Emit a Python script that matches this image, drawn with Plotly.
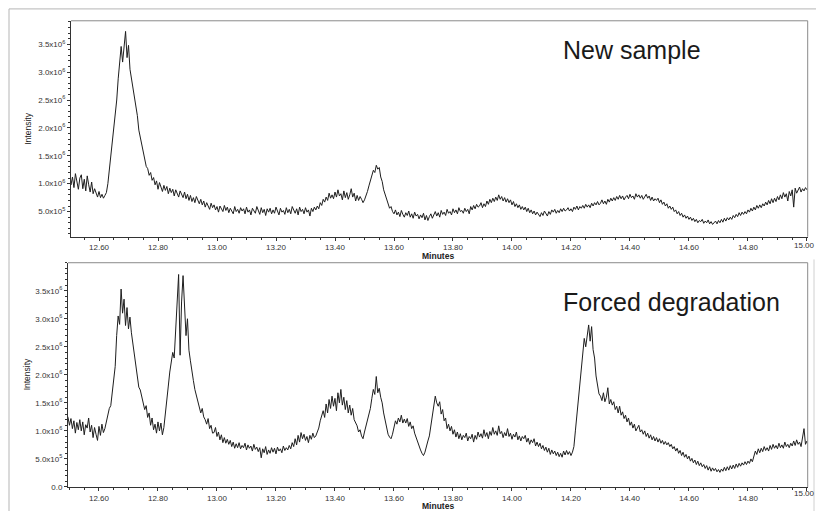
import plotly.graph_objects as go

# Sampling grid of the chromatograms (minutes)
START_MIN = 12.49
STEP_MIN = 0.005

# Intensity readings, in units of 1e5 counts, one row per 0.05 min
new_sample = [
    12.8, 13.1, 11.0, 9.8, 11.2, 9.3, 11.8, 10.0, 9.0, 11.0,
    11.6, 9.1, 10.8, 8.7, 11.4, 9.8, 8.5, 10.3, 8.2, 9.1,
    8.4, 7.6, 8.6, 7.5, 8.1, 7.4, 7.9, 8.4, 10.0, 12.5,
    14.8, 17.2, 19.8, 22.6, 25.0, 28.8, 32.5, 34.6, 31.8, 35.2,
    37.3, 32.6, 34.8, 30.5, 28.9, 27.0, 25.8, 23.6, 22.2, 19.6,
    18.4, 16.6, 15.4, 14.4, 13.1, 12.7, 11.5, 12.0, 10.6, 11.1,
    9.8, 10.5, 9.0, 10.2, 9.4, 8.6, 9.7, 8.8, 9.5, 8.2,
    9.2, 8.4, 9.0, 7.8, 8.9, 8.1, 7.6, 8.7, 8.0, 7.5,
    8.5, 7.3, 8.1, 7.0, 7.9, 6.8, 7.5, 6.6, 7.7, 6.9,
    6.4, 7.2, 6.2, 6.9, 5.8, 6.6, 6.0, 5.4, 6.5, 5.7,
    6.2, 5.3, 5.9, 4.9, 6.0, 5.5, 5.0, 6.1, 5.2, 5.8,
    4.8, 5.6, 5.2, 4.6, 5.9, 5.0, 5.4, 4.7, 5.7, 5.1,
    5.5, 4.6, 5.8, 4.9, 5.3, 4.4, 5.6, 5.0, 4.7, 5.9,
    5.2, 4.5, 5.7, 4.8, 5.4, 4.3, 5.5, 4.9, 5.6, 4.6,
    5.3, 4.7, 5.8, 5.0, 4.4, 5.6, 4.9, 5.2, 4.5, 5.7,
    4.8, 5.4, 4.6, 5.9, 5.1, 4.7, 5.5, 4.4, 5.8, 5.0,
    5.4, 4.6, 5.7, 4.9, 5.3, 4.2, 5.6, 5.0, 5.8, 5.3,
    6.0, 5.5, 6.6, 6.1, 7.2, 6.7, 7.6, 7.0, 8.3, 7.4,
    8.0, 7.3, 8.5, 7.6, 8.9, 7.8, 8.2, 7.1, 8.7, 7.5,
    8.4, 7.2, 8.0, 9.1, 7.6, 8.3, 6.9, 7.9, 7.0, 7.7,
    7.2, 6.6, 7.1, 7.8, 8.6, 9.6, 10.6, 11.5, 12.4, 12.0,
    13.3, 12.6, 12.9, 11.2, 10.4, 8.9, 8.0, 7.0, 6.4, 5.6,
    5.9, 5.0, 4.6, 5.3, 4.4, 4.9, 4.1, 5.2, 4.5, 4.0,
    4.8, 4.3, 5.1, 4.0, 4.6, 3.8, 4.9, 4.2, 4.5, 3.7,
    4.4, 3.9, 4.7, 3.5, 4.3, 3.4, 4.1, 4.6, 3.8, 4.4,
    5.0, 4.2, 4.8, 4.0, 5.2, 4.5, 4.9, 4.3, 5.4, 4.7,
    5.0, 4.4, 5.5, 4.8, 5.3, 4.6, 5.7, 5.0, 5.2, 4.7,
    5.6, 5.0, 5.4, 4.6, 5.9, 5.3, 6.1, 5.5, 6.3, 5.8,
    6.0, 6.6, 5.7, 6.4, 5.9, 6.9, 6.3, 7.2, 6.6, 7.4,
    6.8, 7.6, 7.0, 8.0, 7.2, 7.7, 6.9, 7.5, 6.7, 7.3,
    6.6, 7.1, 6.2, 6.8, 5.9, 6.4, 5.7, 6.2, 5.4, 5.9,
    5.3, 5.8, 5.0, 5.6, 4.8, 5.3, 4.6, 5.1, 4.4, 4.9,
    4.5, 4.1, 4.8, 4.3, 5.1, 4.6, 4.2, 5.0, 4.5, 5.3,
    4.9, 5.4, 4.7, 5.2, 4.8, 5.5, 5.0, 5.6, 5.1, 5.3,
    5.7, 5.1, 5.5, 5.0, 5.8, 5.4, 6.0, 5.3, 5.9, 5.6,
    6.1, 5.6, 6.3, 5.8, 6.2, 5.7, 6.5, 6.0, 6.6, 6.2,
    6.8, 6.2, 6.5, 7.1, 6.4, 6.9, 6.3, 7.2, 6.7, 7.4,
    6.9, 7.5, 7.0, 7.7, 7.2, 7.9, 7.3, 7.8, 7.1, 7.6,
    7.9, 7.3, 8.1, 7.5, 7.8, 7.2, 8.2, 7.6, 8.0, 7.4,
    7.9, 7.2, 7.7, 8.1, 7.4, 7.8, 7.0, 7.6, 6.9, 7.3,
    7.0, 7.4, 6.6, 7.1, 6.3, 6.7, 6.0, 6.4, 5.6, 6.0,
    5.4, 5.8, 5.0, 5.3, 4.6, 5.0, 4.3, 4.7, 4.0, 4.4,
    3.8, 4.2, 3.6, 4.0, 3.4, 3.8, 3.2, 3.6, 3.0, 3.4,
    3.2, 3.6, 2.9, 3.3, 3.0, 3.5, 2.8, 3.2, 2.7, 3.1,
    3.3, 2.8, 3.4, 3.0, 3.6, 3.1, 3.8, 3.3, 3.9, 3.5,
    4.0, 3.6, 4.3, 3.9, 4.5, 4.1, 4.8, 4.3, 4.9, 4.5,
    5.0, 4.6, 5.3, 4.9, 5.6, 5.1, 5.8, 5.3, 6.1, 5.6,
    6.2, 5.7, 6.4, 6.0, 6.7, 6.2, 7.0, 6.4, 7.3, 6.6,
    7.4, 6.8, 7.7, 7.1, 8.0, 7.3, 8.4, 7.6, 8.2, 6.9,
    8.6, 7.8, 8.9, 5.8, 9.2, 8.3, 8.8, 9.4, 8.5, 9.1,
    8.7, 9.3, 8.9,
]

forced_degradation = [
    13.0, 12.4, 11.0, 12.2, 10.4, 11.8, 9.6, 11.5, 10.2, 12.0,
    10.0, 11.6, 9.3, 11.1, 10.5, 12.3, 9.8, 11.0, 8.8, 10.6,
    9.4, 8.3, 10.8, 9.2, 11.2, 9.7, 10.4, 11.6, 12.4, 14.0,
    14.5, 16.5, 19.0, 21.5, 27.0, 30.5, 29.0, 35.3, 31.0, 33.5,
    28.8, 32.0, 28.2, 30.3, 27.5, 25.4, 23.5, 21.0, 19.8, 17.8,
    17.3, 16.0, 15.2, 13.8, 14.5, 12.4, 13.2, 11.0, 12.3, 10.2,
    11.2, 9.6, 11.6, 10.0, 11.4, 9.3, 10.6, 13.5, 15.8, 18.0,
    20.5, 22.0, 24.0, 23.0, 28.0, 33.0, 37.9, 23.5, 33.0, 37.7,
    31.0, 27.0, 30.0, 24.4, 22.5, 20.3, 19.0, 17.4, 16.2, 15.5,
    14.2, 13.2, 14.0, 12.5, 12.0, 11.2, 12.2, 10.4, 11.0, 9.6,
    9.7, 10.6, 9.0, 9.8, 8.4, 9.3, 7.9, 8.8, 7.8, 8.5,
    7.6, 8.3, 7.2, 8.0, 6.9, 7.7, 7.0, 7.9, 6.8, 7.4,
    7.0, 7.8, 6.6, 7.5, 6.9, 7.3, 6.4, 7.6, 6.7, 7.1,
    6.3, 7.0, 5.2, 6.8, 6.1, 7.2, 5.8, 6.6, 6.0, 7.0,
    6.2, 6.9, 5.9, 7.1, 6.4, 6.8, 6.1, 7.3, 6.5, 7.0,
    6.6, 7.4, 6.8, 7.9, 7.2, 8.6, 7.5, 9.2, 8.0, 9.7,
    8.6, 9.4, 8.3, 9.0, 7.9, 9.2, 8.5, 9.6, 8.8, 9.1,
    9.8, 10.5, 11.8, 12.7, 13.6, 12.4, 14.8, 13.2, 15.6, 14.0,
    16.2, 14.4, 15.8, 13.6, 16.8, 15.0, 17.4, 14.6, 16.0, 13.8,
    15.4, 13.2, 14.6, 12.8, 14.0, 12.0, 11.4, 10.9, 9.8, 10.2,
    9.1, 8.6, 9.8, 10.9, 12.0, 13.2, 14.0, 15.8, 17.4, 16.5,
    19.7, 16.8, 17.6, 16.0, 15.0, 13.2, 11.8, 10.4, 9.4, 8.9,
    8.6, 9.4, 10.6, 11.8, 11.2, 12.3, 11.6, 12.8, 11.4, 12.1,
    11.4, 12.2, 10.8, 11.6, 10.4, 10.9, 9.6, 8.8, 7.8, 7.4,
    6.6, 6.0, 5.6, 6.2, 7.0, 8.2, 9.1, 11.0, 12.8, 14.0,
    16.2, 15.0, 14.4, 15.2, 13.0, 13.8, 11.8, 12.3, 10.4, 11.2,
    10.0, 10.8, 9.4, 10.2, 8.9, 9.8, 8.6, 9.5, 8.4, 9.2,
    8.8, 9.6, 8.2, 9.0, 8.6, 9.4, 8.0, 9.2, 8.5, 9.8,
    8.9, 9.5, 8.7, 10.2, 9.0, 9.7, 8.6, 9.9, 9.2, 10.6,
    9.4, 10.0, 9.2, 10.9, 9.5, 9.9, 8.8, 9.7, 9.1, 10.4,
    9.0, 9.6, 8.5, 9.4, 8.9, 9.8, 8.4, 9.1, 8.2, 9.0,
    8.6, 9.2, 8.0, 8.7, 7.6, 8.4, 7.9, 8.6, 7.3, 8.0,
    7.2, 7.8, 6.8, 7.4, 6.5, 7.1, 6.2, 6.9, 5.8, 6.6,
    5.9, 6.4, 5.6, 6.2, 5.4, 6.0, 5.3, 6.4, 5.7, 6.5,
    5.8, 6.3, 5.6, 6.2, 7.2, 10.0, 12.7, 15.5, 18.5, 21.5,
    24.0, 26.5, 25.0, 27.5, 28.9, 26.0, 28.6, 24.5, 23.0, 19.8,
    17.8, 16.6, 16.2, 15.4, 16.8, 15.2, 16.0, 17.7, 14.8, 15.6,
    14.6, 15.2, 13.8, 14.4, 13.2, 14.4, 12.8, 13.4, 12.2, 12.8,
    11.6, 12.3, 11.0, 11.6, 10.5, 11.2, 10.0, 10.4, 11.0, 9.8,
    10.2, 9.4, 10.0, 9.0, 9.6, 8.7, 9.3, 8.4, 9.0, 8.2,
    8.8, 8.0, 8.6, 7.8, 8.3, 7.6, 8.1, 7.5, 7.9, 7.2,
    7.6, 6.8, 7.2, 6.4, 6.9, 6.0, 6.5, 5.6, 6.2, 5.3,
    5.8, 5.0, 5.5, 4.6, 5.1, 4.3, 4.8, 4.0, 4.6, 3.8,
    4.3, 3.6, 4.0, 3.3, 3.8, 3.0, 3.6, 2.8, 3.4, 2.9,
    3.3, 2.7, 3.1, 2.6, 3.2, 2.8, 3.5, 2.9, 3.6, 3.0,
    3.8, 3.2, 3.9, 3.3, 4.1, 3.5, 4.2, 3.7, 4.3, 3.9,
    4.5, 4.0, 4.6, 4.2, 5.0, 4.5, 5.6, 6.4, 5.8, 6.8,
    6.1, 6.9, 6.3, 7.2, 6.5, 7.0, 6.4, 7.4, 6.7, 7.6,
    6.9, 7.4, 6.8, 7.8, 7.0, 7.5, 6.9, 8.0, 7.2, 7.6,
    7.0, 7.8, 7.3, 8.2, 7.4, 8.4, 7.6, 8.0, 7.2, 8.6,
    10.4, 7.6, 8.2,
]

UNIT = 1e5  # readings are in units of 1e5

x_ticks = [12.60, 12.80, 13.00, 13.20, 13.40, 13.60, 13.80, 14.00, 14.20, 14.40, 14.60, 14.80, 15.00]
x_tick_labels = ["12.60", "12.80", "13.00", "13.20", "13.40", "13.60", "13.80",
                 "14.00", "14.20", "14.40", "14.60", "14.80", "15.00"]
y_ticks_top = [0.5e6, 1.0e6, 1.5e6, 2.0e6, 2.5e6, 3.0e6, 3.5e6]
y_labels_top = ["5.0x10<sup>5</sup>", "1.0x10<sup>6</sup>", "1.5x10<sup>6</sup>", "2.0x10<sup>6</sup>",
                "2.5x10<sup>6</sup>", "3.0x10<sup>6</sup>", "3.5x10<sup>6</sup>"]
y_ticks_bot = [0.0] + y_ticks_top
y_labels_bot = ["0.0"] + y_labels_top

panel_titles = ["New sample", "Forced degradation"]
x_title = "Minutes"
y_title = "Intensity"


def times_for(vals):
    return [round(START_MIN + i * STEP_MIN, 3) for i in range(len(vals))]


W, H = 816, 516
FONT = "Liberation Sans, Arial, sans-serif"

fig = go.Figure()
fig.add_trace(go.Scatter(x=times_for(new_sample), y=[v * UNIT for v in new_sample],
                         mode="lines", line=dict(color="#1e1e1e", width=1.0),
                         xaxis="x", yaxis="y", showlegend=False, cliponaxis=True))
fig.add_trace(go.Scatter(x=times_for(forced_degradation), y=[v * UNIT for v in forced_degradation],
                         mode="lines", line=dict(color="#1e1e1e", width=1.0),
                         xaxis="x2", yaxis="y2", showlegend=False, cliponaxis=True))


def px_x(p):
    return p / W


def px_y(p):
    return 1 - p / H


# the last x tick label sits on the page edge; it is placed as a note so it stays inside the page
shown_x_labels = x_tick_labels[:-1] + [""]

tick_font = dict(family=FONT, size=8, color="#333")
common_x = dict(
    tickmode="array", tickvals=x_ticks, ticktext=shown_x_labels,
    ticks="outside", ticklen=3, tickwidth=1, tickcolor="#333",
    minor=dict(ticks="outside", dtick=0.05, tick0=12.6, ticklen=2, tickcolor="#333", showgrid=False),
    showline=True, linecolor="#333", linewidth=1, showgrid=False, zeroline=False,
    tickfont=tick_font, fixedrange=True,
)
common_y = dict(
    tickmode="array",
    ticks="outside", ticklen=3, tickwidth=1, tickcolor="#333",
    minor=dict(ticks="outside", dtick=1e5, tick0=0, ticklen=2, tickcolor="#333", showgrid=False),
    showline=True, linecolor="#333", linewidth=1, showgrid=False, zeroline=False,
    tickfont=tick_font, fixedrange=True,
)

top_box = (71, 807.7, 21, 239)
bot_box = (68, 807.7, 265.3, 491.7)

fig.update_layout(
    width=W, height=H,
    margin=dict(l=0, r=0, t=0, b=0),
    paper_bgcolor="white", plot_bgcolor="white",
    xaxis=dict(domain=[px_x(top_box[0]), px_x(top_box[1])], range=[12.505, 15.0025], anchor="y", **common_x),
    yaxis=dict(domain=[px_y(top_box[3]), px_y(top_box[2])], range=[0.05e6, 3.92e6], anchor="x",
               tickvals=y_ticks_top, ticktext=y_labels_top, **common_y),
    xaxis2=dict(domain=[px_x(bot_box[0]), px_x(bot_box[1])], range=[12.495, 15.0025], anchor="y2", **common_x),
    yaxis2=dict(domain=[px_y(bot_box[3]), px_y(bot_box[2])], range=[0, 4.0e6], anchor="x2",
                tickvals=y_ticks_bot, ticktext=y_labels_bot, **common_y),
)

shapes = []
# gray frame (top and right sides) of each plot box
for xr, yr in (("x domain", "y domain"), ("x2 domain", "y2 domain")):
    shapes.append(dict(type="line", xref=xr, yref=yr, x0=0, x1=1, y0=1, y1=1,
                       line=dict(color="#8a8a8a", width=1)))
    shapes.append(dict(type="line", xref=xr, yref=yr, x0=1, x1=1, y0=0, y1=1,
                       line=dict(color="#8a8a8a", width=1)))
# outer crop frame of the original figure
shapes.append(dict(type="line", xref="paper", yref="paper", x0=px_x(9), x1=1, y0=px_y(9), y1=px_y(9),
                   line=dict(color="#b5b5b5", width=1)))
shapes.append(dict(type="line", xref="paper", yref="paper", x0=px_x(9), x1=px_x(9), y0=0, y1=px_y(9),
                   line=dict(color="#b5b5b5", width=1)))
shapes.append(dict(type="line", xref="paper", yref="paper", x0=px_x(814), x1=px_x(814), y0=0, y1=px_y(262),
                   line=dict(color="#d0d0d0", width=1)))
fig.update_layout(shapes=shapes)

annotations = [
    dict(text=panel_titles[0], xref="paper", yref="paper", x=px_x(632), y=px_y(50),
         xanchor="center", yanchor="middle", showarrow=False,
         font=dict(family=FONT, size=25, color="#1a1a1a")),
    dict(text=panel_titles[1], xref="paper", yref="paper", x=px_x(671), y=px_y(305),
         xanchor="center", yanchor="middle", showarrow=False,
         font=dict(family=FONT, size=25, color="#1a1a1a")),
    dict(text="<b>" + x_title + "</b>", xref="paper", yref="paper", x=px_x(438), y=px_y(259),
         xanchor="center", yanchor="middle", showarrow=False,
         font=dict(family=FONT, size=8.5, color="#222")),
    dict(text="<b>" + x_title + "</b>", xref="paper", yref="paper", x=px_x(438), y=px_y(510.5),
         xanchor="center", yanchor="middle", showarrow=False,
         font=dict(family=FONT, size=8.5, color="#222")),
    dict(text=y_title, xref="paper", yref="paper", x=px_x(28), y=px_y(130),
         xanchor="center", yanchor="middle", showarrow=False, textangle=-90,
         font=dict(family=FONT, size=8.5, color="#222")),
    dict(text=y_title, xref="paper", yref="paper", x=px_x(27), y=px_y(378),
         xanchor="center", yanchor="middle", showarrow=False, textangle=-90,
         font=dict(family=FONT, size=8.5, color="#222")),
    dict(text=x_tick_labels[-1], xref="paper", yref="paper", x=1.0, y=px_y(247.5),
         xanchor="right", yanchor="middle", showarrow=False, borderpad=0,
         font=tick_font),
    dict(text=x_tick_labels[-1], xref="paper", yref="paper", x=1.0, y=px_y(498.5),
         xanchor="right", yanchor="middle", showarrow=False, borderpad=0,
         font=tick_font),
]
fig.update_layout(annotations=annotations)

fig.write_html("out.html", config={"displayModeBar": False},
               post_script="document.body.style.margin='0px';document.body.style.overflow='hidden';")
